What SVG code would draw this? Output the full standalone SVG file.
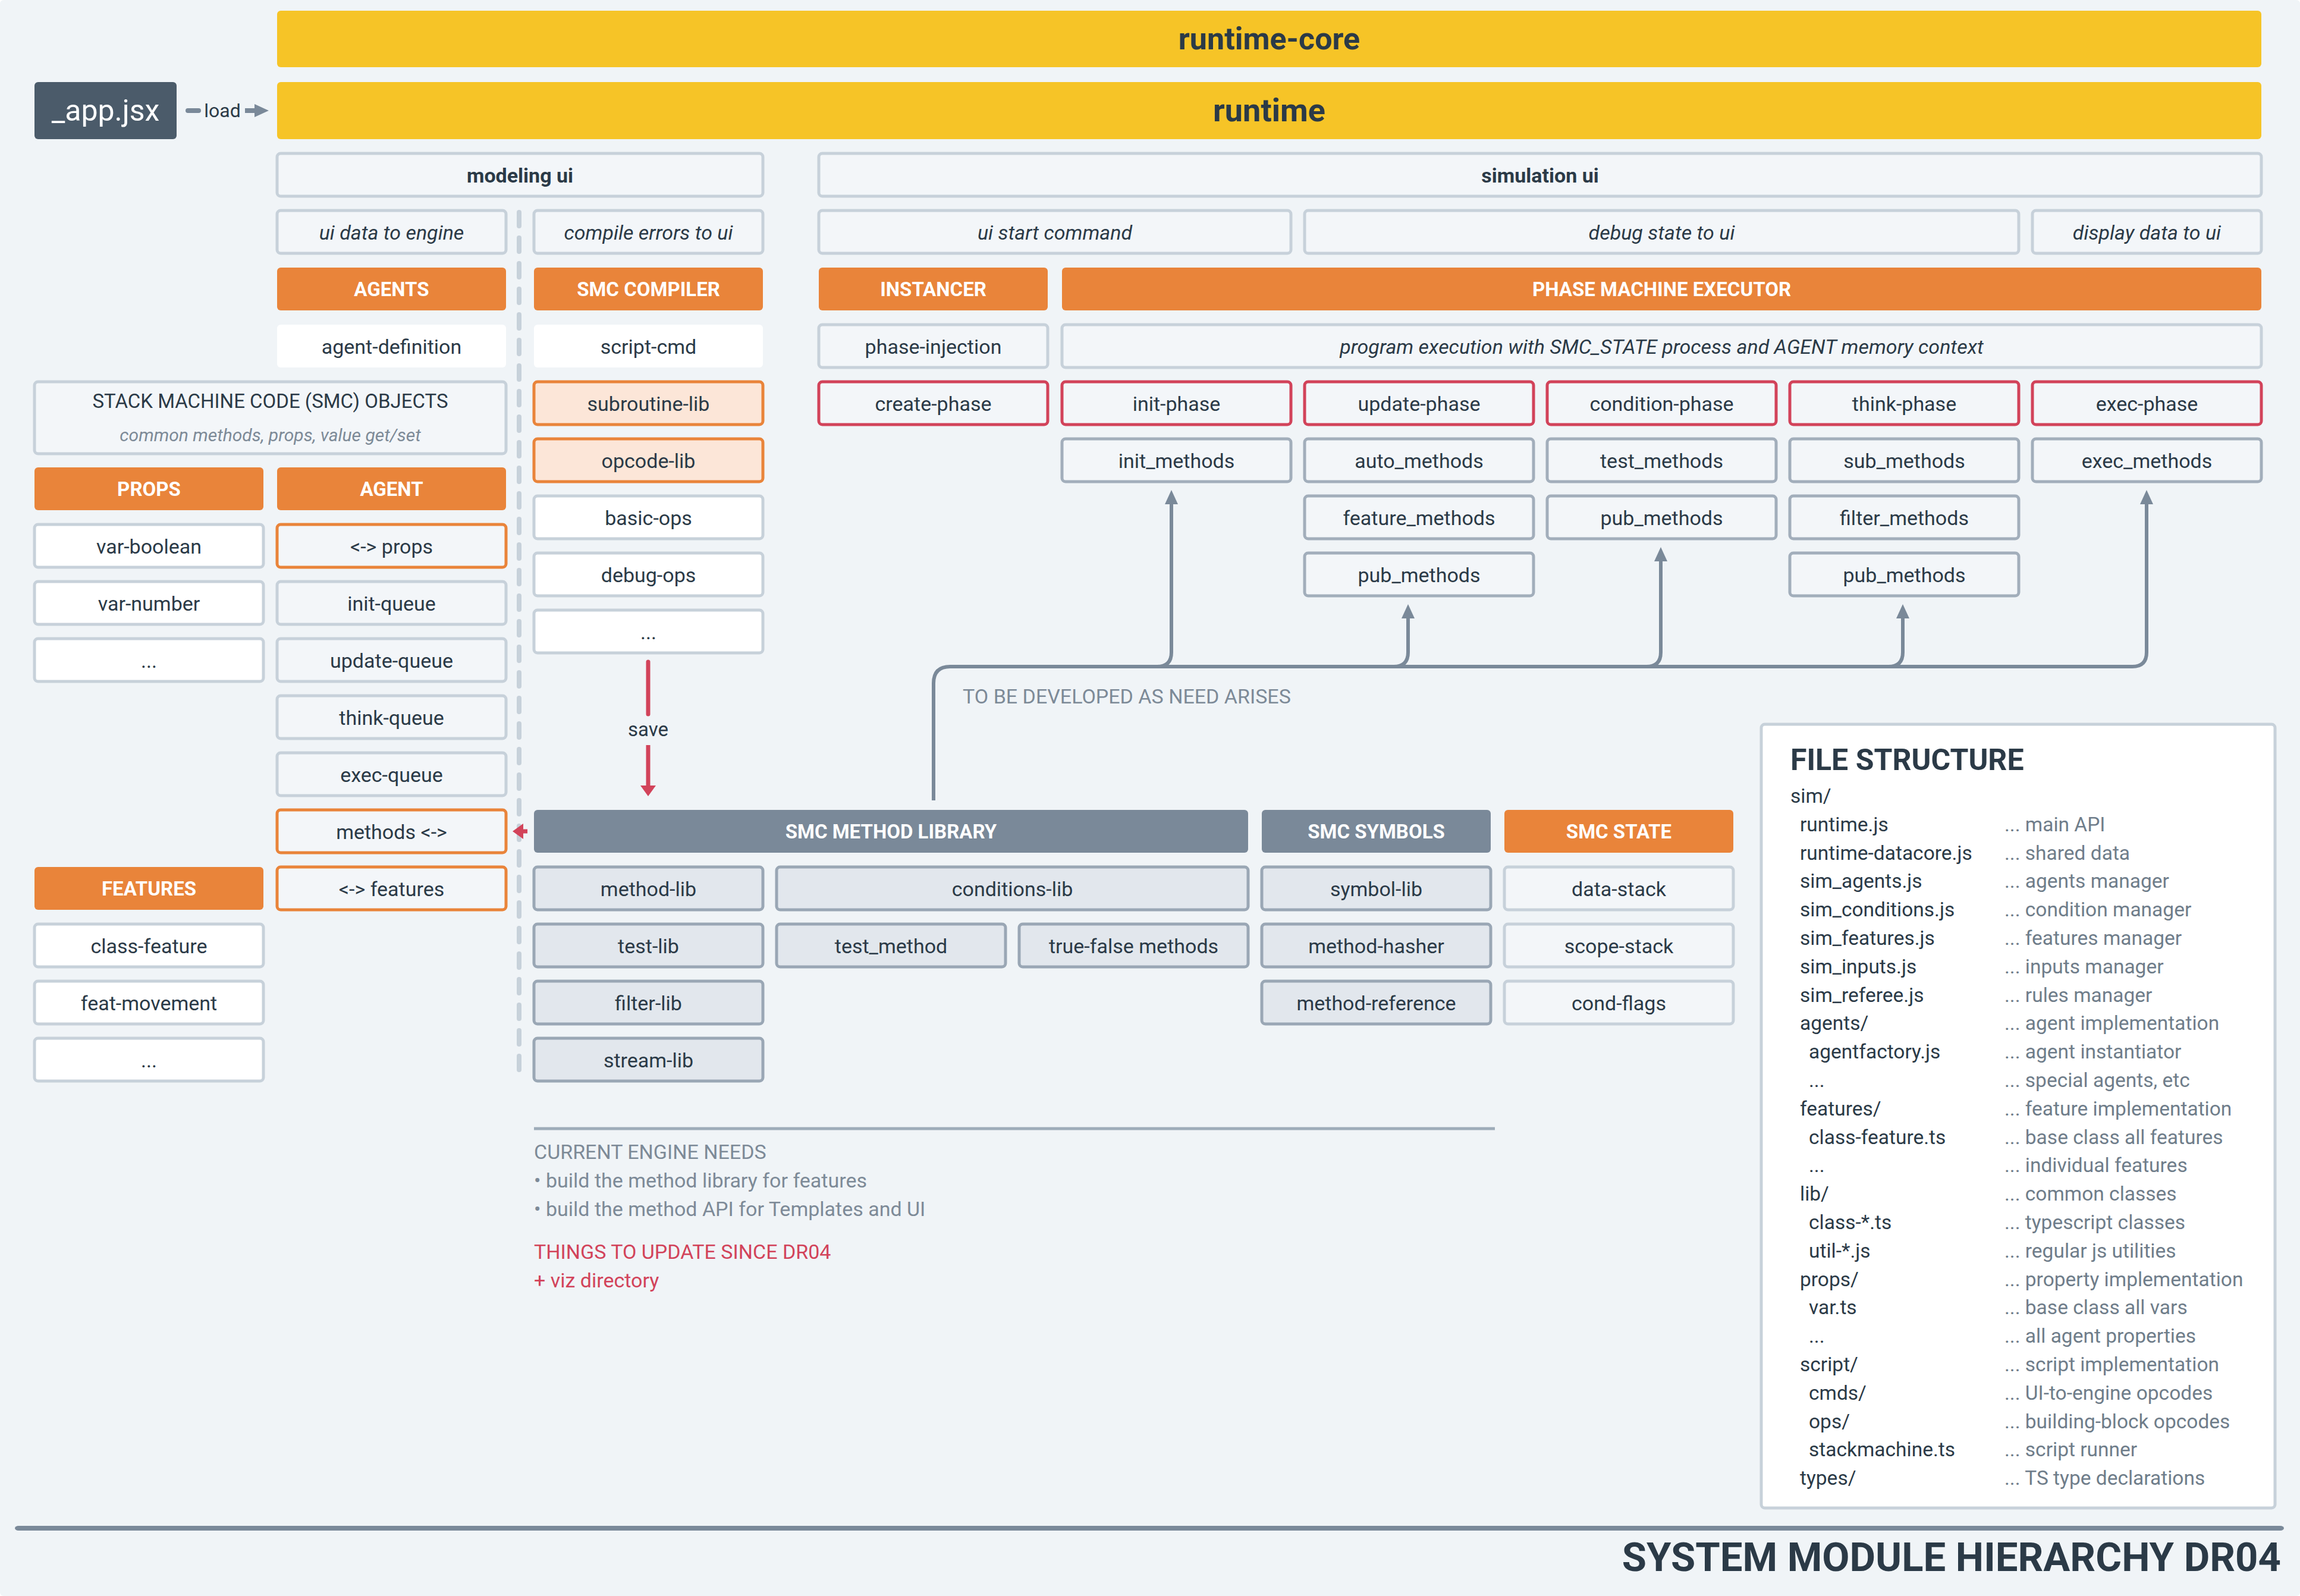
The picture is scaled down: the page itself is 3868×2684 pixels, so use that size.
<svg xmlns="http://www.w3.org/2000/svg" width="3868" height="2684" viewBox="0 0 3868 2684">
<style>
text{font-family:Roboto,"Liberation Sans",sans-serif;font-size:34px;fill:#2b3a47;text-anchor:middle}
.i{font-style:italic}
.b{font-weight:bold}
.hw{font-weight:bold;fill:#ffffff;font-size:33px}
.l{text-anchor:start}
.g{fill:#7d8a97}
.r{fill:#d2435a}
.fs{text-anchor:start;font-size:33.5px}
.fd{text-anchor:start;font-size:33.5px;fill:#6f7d8a}
.nt{font-size:34px}
rect{rx:6px}
.bx{fill:#f3f6f9;stroke:#c7d1da;stroke-width:5}
.wh{fill:#ffffff;stroke:#c7d1da;stroke-width:5}
.wn{fill:#ffffff}
.ob{fill:#f3f6f9;stroke:#e9843a;stroke-width:5}
.lo{fill:#fce6d8;stroke:#e9843a;stroke-width:5}
.rd{fill:#f3f6f9;stroke:#d2435a;stroke-width:5}
.mt{fill:#f3f6f9;stroke:#a2aebb;stroke-width:5}
.lb{fill:#e2e7ed;stroke:#9aa7b5;stroke-width:5}
.ho{fill:#e9843a}
.hg{fill:#7a8999}
.yl{fill:#f6c427}
.cg{fill:none;stroke:#7a8999;stroke-width:6}
.cr{fill:none;stroke:#d2435a;stroke-width:7}
</style>
<defs>
<marker id="ag" viewBox="0 0 24 22" refX="12" refY="11" markerWidth="24" markerHeight="22" orient="auto" markerUnits="userSpaceOnUse"><path d="M0,0 L24,11 L0,22 Z" fill="#7a8999"/></marker>
<marker id="ar" viewBox="0 0 18 26" refX="9" refY="13" markerWidth="18" markerHeight="26" orient="auto" markerUnits="userSpaceOnUse"><path d="M0,0 L18,13 L0,26 Z" fill="#d2435a"/></marker>
</defs>
<rect x="0" y="0" width="3868" height="2684" rx="0" fill="#f0f4f7"/>

<!-- top bars -->
<g id="runtime-core"><rect class="yl" x="466" y="18" width="3337" height="95"/><text class="b" x="2134.5" y="83" style="font-size:52px">runtime-core</text></g>
<g id="runtime"><rect class="yl" x="466" y="138" width="3337" height="96"/><text class="b" x="2134.5" y="204" style="font-size:54px">runtime</text></g>
<g id="app-jsx"><rect x="58" y="138" width="239" height="96" fill="#4b5b6a"/><text x="177.5" y="203" style="font-size:50px;fill:#ffffff">_app.jsx</text></g>
<text id="load-label" x="374" y="197" style="font-size:32px">load</text>

<!-- dashed separator -->
<line x1="873" y1="357" x2="873" y2="1814" stroke="#c7d1da" stroke-width="8" stroke-linecap="round" stroke-dasharray="23 20"/>

<!-- modeling ui -->
<g id="modeling-ui"><rect class="bx" x="466" y="258" width="817" height="72"/><text class="b" x="874.5" y="307">modeling ui</text></g>
<g id="ui-data-to-engine"><rect class="bx" x="466" y="354" width="385" height="72"/><text class="i" x="658.5" y="403">ui data to engine</text></g>
<g id="compile-errors-to-ui"><rect class="bx" x="898" y="354" width="385" height="72"/><text class="i" x="1090.5" y="403">compile errors to ui</text></g>
<g id="agents"><rect class="ho" x="466" y="450" width="385" height="72"/><text class="hw" x="658.5" y="498">AGENTS</text></g>
<g id="smc-compiler"><rect class="ho" x="898" y="450" width="385" height="72"/><text class="hw" x="1090.5" y="498">SMC COMPILER</text></g>
<g id="agent-definition"><rect class="wn" x="466" y="546" width="385" height="72"/><text x="658.5" y="595">agent-definition</text></g>
<g id="script-cmd"><rect class="wn" x="898" y="546" width="385" height="72"/><text x="1090.5" y="595">script-cmd</text></g>
<g id="smc-objects"><rect class="bx" x="58" y="642" width="793" height="121"/><text x="454.5" y="686" style="font-size:33px">STACK MACHINE CODE (SMC) OBJECTS</text><text class="i g" x="454.5" y="742" style="font-size:30px">common methods, props, value get/set</text></g>
<g id="subroutine-lib"><rect class="lo" x="898" y="642" width="385" height="72"/><text x="1090.5" y="691">subroutine-lib</text></g>
<g id="opcode-lib"><rect class="lo" x="898" y="738" width="385" height="72"/><text x="1090.5" y="787">opcode-lib</text></g>
<g id="basic-ops"><rect class="wh" x="898" y="834" width="385" height="72"/><text x="1090.5" y="883">basic-ops</text></g>
<g id="debug-ops"><rect class="wh" x="898" y="930" width="385" height="72"/><text x="1090.5" y="979">debug-ops</text></g>
<g id="compiler-more"><rect class="wh" x="898" y="1026" width="385" height="72"/><text x="1090.5" y="1075">...</text></g>

<g id="props"><rect class="ho" x="58" y="786" width="385" height="72"/><text class="hw" x="250.5" y="834">PROPS</text></g>
<g id="agent"><rect class="ho" x="466" y="786" width="385" height="72"/><text class="hw" x="658.5" y="834">AGENT</text></g>
<g id="var-boolean"><rect class="wh" x="58" y="882" width="385" height="72"/><text x="250.5" y="931">var-boolean</text></g>
<g id="var-number"><rect class="wh" x="58" y="978" width="385" height="72"/><text x="250.5" y="1027">var-number</text></g>
<g id="props-more"><rect class="wh" x="58" y="1074" width="385" height="72"/><text x="250.5" y="1123">...</text></g>
<g id="agent-props"><rect class="ob" x="466" y="882" width="385" height="72"/><text x="658.5" y="931">&lt;-&gt; props</text></g>
<g id="init-queue"><rect class="bx" x="466" y="978" width="385" height="72"/><text x="658.5" y="1027">init-queue</text></g>
<g id="update-queue"><rect class="bx" x="466" y="1074" width="385" height="72"/><text x="658.5" y="1123">update-queue</text></g>
<g id="think-queue"><rect class="bx" x="466" y="1170" width="385" height="72"/><text x="658.5" y="1219">think-queue</text></g>
<g id="exec-queue"><rect class="bx" x="466" y="1266" width="385" height="72"/><text x="658.5" y="1315">exec-queue</text></g>
<g id="agent-methods"><rect class="ob" x="466" y="1362" width="385" height="72"/><text x="658.5" y="1411">methods &lt;-&gt;</text></g>
<g id="agent-features"><rect class="ob" x="466" y="1458" width="385" height="72"/><text x="658.5" y="1507">&lt;-&gt; features</text></g>
<g id="features"><rect class="ho" x="58" y="1458" width="385" height="72"/><text class="hw" x="250.5" y="1506">FEATURES</text></g>
<g id="class-feature"><rect class="wh" x="58" y="1554" width="385" height="72"/><text x="250.5" y="1603">class-feature</text></g>
<g id="feat-movement"><rect class="wh" x="58" y="1650" width="385" height="72"/><text x="250.5" y="1699">feat-movement</text></g>
<g id="features-more"><rect class="wh" x="58" y="1746" width="385" height="72"/><text x="250.5" y="1795">...</text></g>

<!-- simulation ui -->
<g id="simulation-ui"><rect class="bx" x="1377" y="258" width="2426" height="72"/><text class="b" x="2590" y="307">simulation ui</text></g>
<g id="ui-start-command"><rect class="bx" x="1377" y="354" width="794" height="72"/><text class="i" x="1774" y="403">ui start command</text></g>
<g id="debug-state-to-ui"><rect class="bx" x="2194" y="354" width="1201" height="72"/><text class="i" x="2794.5" y="403">debug state to ui</text></g>
<g id="display-data-to-ui"><rect class="bx" x="3418" y="354" width="385" height="72"/><text class="i" x="3610.5" y="403">display data to ui</text></g>
<g id="instancer"><rect class="ho" x="1377" y="450" width="385" height="72"/><text class="hw" x="1569.5" y="498">INSTANCER</text></g>
<g id="phase-machine-executor"><rect class="ho" x="1786" y="450" width="2017" height="72"/><text class="hw" x="2794.5" y="498">PHASE MACHINE EXECUTOR</text></g>
<g id="phase-injection"><rect class="bx" x="1377" y="546" width="385" height="72"/><text x="1569.5" y="595">phase-injection</text></g>
<g id="program-execution"><rect class="bx" x="1786" y="546" width="2017" height="72"/><text class="i" x="2794.5" y="595">program execution with SMC_STATE process and AGENT memory context</text></g>
<g id="create-phase"><rect class="rd" x="1377" y="642" width="385" height="72"/><text x="1569.5" y="691">create-phase</text></g>
<g id="init-phase"><rect class="rd" x="1786" y="642" width="385" height="72"/><text x="1978.5" y="691">init-phase</text></g>
<g id="update-phase"><rect class="rd" x="2194" y="642" width="385" height="72"/><text x="2386.5" y="691">update-phase</text></g>
<g id="condition-phase"><rect class="rd" x="2602" y="642" width="385" height="72"/><text x="2794.5" y="691">condition-phase</text></g>
<g id="think-phase"><rect class="rd" x="3010" y="642" width="385" height="72"/><text x="3202.5" y="691">think-phase</text></g>
<g id="exec-phase"><rect class="rd" x="3418" y="642" width="385" height="72"/><text x="3610.5" y="691">exec-phase</text></g>
<g id="init-methods"><rect class="mt" x="1786" y="738" width="385" height="72"/><text x="1978.5" y="787">init_methods</text></g>
<g id="auto-methods"><rect class="mt" x="2194" y="738" width="385" height="72"/><text x="2386.5" y="787">auto_methods</text></g>
<g id="test-methods"><rect class="mt" x="2602" y="738" width="385" height="72"/><text x="2794.5" y="787">test_methods</text></g>
<g id="sub-methods"><rect class="mt" x="3010" y="738" width="385" height="72"/><text x="3202.5" y="787">sub_methods</text></g>
<g id="exec-methods"><rect class="mt" x="3418" y="738" width="385" height="72"/><text x="3610.5" y="787">exec_methods</text></g>
<g id="feature-methods"><rect class="mt" x="2194" y="834" width="385" height="72"/><text x="2386.5" y="883">feature_methods</text></g>
<g id="pub-methods-cond"><rect class="mt" x="2602" y="834" width="385" height="72"/><text x="2794.5" y="883">pub_methods</text></g>
<g id="filter-methods"><rect class="mt" x="3010" y="834" width="385" height="72"/><text x="3202.5" y="883">filter_methods</text></g>
<g id="pub-methods-update"><rect class="mt" x="2194" y="930" width="385" height="72"/><text x="2386.5" y="979">pub_methods</text></g>
<g id="pub-methods-think"><rect class="mt" x="3010" y="930" width="385" height="72"/><text x="3202.5" y="979">pub_methods</text></g>

<text id="tbd-note" class="l g" x="1619" y="1183" style="font-size:34px">TO BE DEVELOPED AS NEED ARISES</text>

<!-- SMC method library -->
<g id="smc-method-library"><rect class="hg" x="898" y="1362" width="1201" height="72"/><text class="hw" x="1498.5" y="1410">SMC METHOD LIBRARY</text></g>
<g id="smc-symbols"><rect class="hg" x="2122" y="1362" width="385" height="72"/><text class="hw" x="2314.5" y="1410">SMC SYMBOLS</text></g>
<g id="smc-state"><rect class="ho" x="2530" y="1362" width="385" height="72"/><text class="hw" x="2722.5" y="1410">SMC STATE</text></g>
<g id="method-lib"><rect class="lb" x="898" y="1458" width="385" height="72"/><text x="1090.5" y="1507">method-lib</text></g>
<g id="conditions-lib"><rect class="lb" x="1306" y="1458" width="793" height="72"/><text x="1702.5" y="1507">conditions-lib</text></g>
<g id="symbol-lib"><rect class="lb" x="2122" y="1458" width="385" height="72"/><text x="2314.5" y="1507">symbol-lib</text></g>
<g id="data-stack"><rect class="bx" x="2530" y="1458" width="385" height="72"/><text x="2722.5" y="1507">data-stack</text></g>
<g id="test-lib"><rect class="lb" x="898" y="1554" width="385" height="72"/><text x="1090.5" y="1603">test-lib</text></g>
<g id="test-method"><rect class="lb" x="1306" y="1554" width="385" height="72"/><text x="1498.5" y="1603">test_method</text></g>
<g id="true-false-methods"><rect class="lb" x="1714" y="1554" width="385" height="72"/><text x="1906.5" y="1603">true-false methods</text></g>
<g id="method-hasher"><rect class="lb" x="2122" y="1554" width="385" height="72"/><text x="2314.5" y="1603">method-hasher</text></g>
<g id="scope-stack"><rect class="bx" x="2530" y="1554" width="385" height="72"/><text x="2722.5" y="1603">scope-stack</text></g>
<g id="filter-lib"><rect class="lb" x="898" y="1650" width="385" height="72"/><text x="1090.5" y="1699">filter-lib</text></g>
<g id="method-reference"><rect class="lb" x="2122" y="1650" width="385" height="72"/><text x="2314.5" y="1699">method-reference</text></g>
<g id="cond-flags"><rect class="bx" x="2530" y="1650" width="385" height="72"/><text x="2722.5" y="1699">cond-flags</text></g>
<g id="stream-lib"><rect class="lb" x="898" y="1746" width="385" height="72"/><text x="1090.5" y="1795">stream-lib</text></g>

<!-- connectors -->
<g id="connectors">
<path class="cg" d="M1570,1346 L1570,1149 Q1570,1121 1598,1121 L3586,1121 Q3610,1121 3610,1097 L3610,836" marker-end="url(#ag)"/>
<path class="cg" d="M1946,1121 Q1970,1121 1970,1097 L1970,836" marker-end="url(#ag)"/>
<path class="cg" d="M2344,1121 Q2368,1121 2368,1097 L2368,1028" marker-end="url(#ag)"/>
<path class="cg" d="M2769,1121 Q2793,1121 2793,1097 L2793,932" marker-end="url(#ag)"/>
<path class="cg" d="M3176,1121 Q3200,1121 3200,1097 L3200,1028" marker-end="url(#ag)"/>
<path class="cr" d="M1090,1113 L1090,1201" stroke-linecap="round"/>
<path class="cr" d="M1090,1253 L1090,1330" marker-end="url(#ar)"/>
<path class="cr" d="M887,1398 L871,1398" marker-end="url(#ar)"/>
<path d="M316,186 L334,186" stroke="#7a8999" stroke-width="8" stroke-linecap="round" fill="none"/>
<path d="M412,186 L440,186" stroke="#7a8999" stroke-width="8" fill="none" marker-end="url(#ag)"/>
</g>
<text id="save-label" x="1090" y="1238" style="font-size:33px">save</text>

<!-- notes -->
<g id="notes">
<line x1="898" y1="1898" x2="2514" y2="1898" stroke="#9eacb9" stroke-width="5"/>
<text class="l g nt" x="898" y="1949">CURRENT ENGINE NEEDS</text>
<text class="l g nt" x="898" y="1997">• build the method library for features</text>
<text class="l g nt" x="898" y="2045">• build the method API for Templates and UI</text>
<text class="l r nt" x="898" y="2117">THINGS TO UPDATE SINCE DR04</text>
<text class="l r nt" x="898" y="2165">+ viz directory</text>
</g>

<!-- file structure -->
<g id="file-structure">
<rect x="2962" y="1218" width="864" height="1318" fill="#ffffff" stroke="#c7d1da" stroke-width="5"/>
<text class="b l" x="3011" y="1295" style="font-size:50px">FILE STRUCTURE</text>
<text class="fs" x="3011" y="1350">sim/</text>
<text class="fs" x="3027" y="1398">runtime.js</text><text class="fd" x="3371" y="1398">... main API</text>
<text class="fs" x="3027" y="1446">runtime-datacore.js</text><text class="fd" x="3371" y="1446">... shared data</text>
<text class="fs" x="3027" y="1493">sim_agents.js</text><text class="fd" x="3371" y="1493">... agents manager</text>
<text class="fs" x="3027" y="1541">sim_conditions.js</text><text class="fd" x="3371" y="1541">... condition manager</text>
<text class="fs" x="3027" y="1589">sim_features.js</text><text class="fd" x="3371" y="1589">... features manager</text>
<text class="fs" x="3027" y="1637">sim_inputs.js</text><text class="fd" x="3371" y="1637">... inputs manager</text>
<text class="fs" x="3027" y="1685">sim_referee.js</text><text class="fd" x="3371" y="1685">... rules manager</text>
<text class="fs" x="3027" y="1732">agents/</text><text class="fd" x="3371" y="1732">... agent implementation</text>
<text class="fs" x="3042" y="1780">agentfactory.js</text><text class="fd" x="3371" y="1780">... agent instantiator</text>
<text class="fs" x="3042" y="1828">...</text><text class="fd" x="3371" y="1828">... special agents, etc</text>
<text class="fs" x="3027" y="1876">features/</text><text class="fd" x="3371" y="1876">... feature implementation</text>
<text class="fs" x="3042" y="1924">class-feature.ts</text><text class="fd" x="3371" y="1924">... base class all features</text>
<text class="fs" x="3042" y="1971">...</text><text class="fd" x="3371" y="1971">... individual features</text>
<text class="fs" x="3027" y="2019">lib/</text><text class="fd" x="3371" y="2019">... common classes</text>
<text class="fs" x="3042" y="2067">class-*.ts</text><text class="fd" x="3371" y="2067">... typescript classes</text>
<text class="fs" x="3042" y="2115">util-*.js</text><text class="fd" x="3371" y="2115">... regular js utilities</text>
<text class="fs" x="3027" y="2163">props/</text><text class="fd" x="3371" y="2163">... property implementation</text>
<text class="fs" x="3042" y="2210">var.ts</text><text class="fd" x="3371" y="2210">... base class all vars</text>
<text class="fs" x="3042" y="2258">...</text><text class="fd" x="3371" y="2258">... all agent properties</text>
<text class="fs" x="3027" y="2306">script/</text><text class="fd" x="3371" y="2306">... script implementation</text>
<text class="fs" x="3042" y="2354">cmds/</text><text class="fd" x="3371" y="2354">... UI-to-engine opcodes</text>
<text class="fs" x="3042" y="2402">ops/</text><text class="fd" x="3371" y="2402">... building-block opcodes</text>
<text class="fs" x="3042" y="2449">stackmachine.ts</text><text class="fd" x="3371" y="2449">... script runner</text>
<text class="fs" x="3027" y="2497">types/</text><text class="fd" x="3371" y="2497">... TS type declarations</text>
</g>

<!-- footer -->
<g id="footer">
<rect x="25" y="2566" width="3816" height="8" rx="4" fill="#7a8999"/>
<text class="b" x="3836" y="2642" style="font-size:67px;text-anchor:end">SYSTEM MODULE HIERARCHY DR04</text>
</g>
</svg>
